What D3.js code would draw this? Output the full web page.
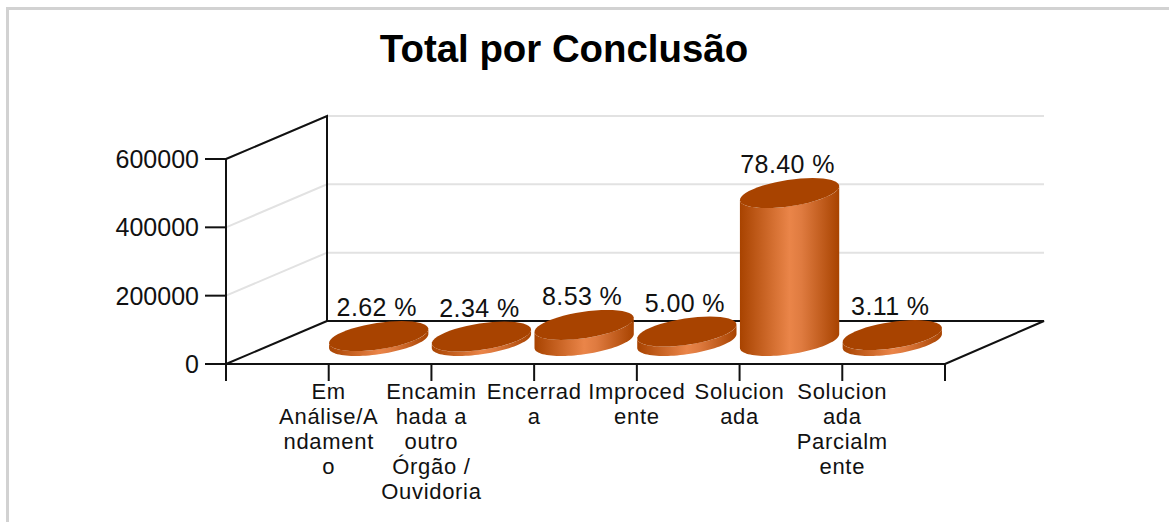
<!DOCTYPE html>
<html><head><meta charset="utf-8">
<script src="https://cdn.jsdelivr.net/npm/d3@7"></script>
<style>html,body{margin:0;padding:0;background:#fff}svg{display:block}text{font-family:"Liberation Sans",Arial,sans-serif;fill:#111}</style>
</head><body><svg id="c" width="1169" height="522"></svg>
<script>
const chartTitle = "Total por Conclusão";
const categories = [["Em","Análise/A","ndament","o"],["Encamin","hada a","outro","Órgão /","Ouvidoria"],["Encerrad","a"],["Improced","ente"],["Solucion","ada"],["Solucion","ada","Parcialm","ente"]];
const values = [14500, 12900, 47100, 27600, 433000, 17200];
const percentLabels = ["2.62 %","2.34 %","8.53 %","5.00 %","78.40 %","3.11 %"];
const yTicks = [0,200000,400000,600000];

const svg = d3.select("#c");
const x = d3.scaleLinear().domain([-1,6]).range([226,945]);
const y = d3.scaleLinear().domain([0,600000]).range([364,159]);
const depth = {x:101,y:-43};

const defs = svg.append("defs");
const g = defs.append("linearGradient").attr("id","cyl").attr("x1",0).attr("x2",1).attr("y1",0).attr("y2",0);
[[0,"#a84300"],[.5,"#ea8549"],[.62,"#df7b40"],[1,"#a84300"]].forEach(s=>g.append("stop").attr("offset",s[0]).attr("stop-color",s[1]));

svg.append("path").attr("d","M7.5 522V8.5H1169").attr("fill","none").attr("stroke","#d2d2d2").attr("stroke-width",3);

svg.append("text").attr("x",564).attr("y",62).attr("text-anchor","middle").attr("font-size",38.4).attr("font-weight","bold").style("fill","#000").text(chartTitle);

// walls
yTicks.slice(1).forEach(t=>{
  svg.append("path").attr("d",d3.line()([[x(-1),y(t)],[x(-1)+depth.x,y(t)+depth.y],[1044,y(t)+depth.y]]))
    .attr("fill","none").attr("stroke","#e2e2e2").attr("stroke-width",2);
});
const axisStyle = s=>s.attr("fill","none").attr("stroke","#111").attr("stroke-width",2);
svg.append("path").attr("d",d3.line()([[x(-1),y(600000)],[x(-1)+depth.x,y(600000)+depth.y],[x(-1)+depth.x,y(0)+depth.y],[1044,y(0)+depth.y],[x(6),y(0)]])).call(axisStyle);
svg.append("path").attr("d",d3.line()([[x(-1),y(0)],[x(-1)+depth.x,y(0)+depth.y]])).call(axisStyle);
svg.append("path").attr("d",d3.line()([[x(-1),y(600000)],[x(-1),y(0)+17]])).call(axisStyle);
svg.append("path").attr("d",d3.line()([[x(-1)-21,y(0)],[x(6),y(0)]])).call(axisStyle);

// y ticks
yTicks.forEach(t=>{
  svg.append("line").attr("x1",x(-1)-21).attr("x2",x(-1)).attr("y1",y(t)).attr("y2",y(t)).call(axisStyle);
  svg.append("text").attr("x",x(-1)-27).attr("y",y(t)+9).attr("text-anchor","end").attr("font-size",25).text(t);
});
// x ticks
d3.range(0,7).forEach(i=>svg.append("line").attr("x1",x(i)).attr("x2",x(i)).attr("y1",y(0)).attr("y2",y(0)+17).call(axisStyle));
categories.forEach((lines,i)=>{
  const t = svg.append("text").attr("text-anchor","middle").attr("font-size",22).attr("letter-spacing",.7);
  lines.forEach((l,j)=>t.append("tspan").attr("x",x(i)).attr("y",399+j*25).text(l));
});

// cylinders
const b = 44, dx = 23, dy = 15;
const line = d3.line();
function ell(cx,cy,a0,a1,n=48){return d3.range(n+1).map(k=>{const a=a0+(a1-a0)*k/n;return [cx+b*Math.cos(a)+dx*Math.sin(a),cy-dy*Math.sin(a)];});}
values.forEach((v,i)=>{
  const cx = x(i)+50, base = y(0)-23, h = y(0)-y(v), top = base-h;
  const at = Math.atan2(dx,b);
  const lower = ell(cx,base,at+Math.PI,at+2*Math.PI);
  const upper = ell(cx,top,at+2*Math.PI,at+Math.PI);
  svg.append("path").attr("d",line(lower.concat(upper))+"Z").attr("fill","url(#cyl)");
  svg.append("path").attr("d",line(ell(cx,top,0,2*Math.PI))+"Z").attr("fill","#a84300");
  svg.append("text").attr("x",cx-2).attr("y",top-20).attr("text-anchor","middle").attr("font-size",25).attr("letter-spacing",.4).text(percentLabels[i]);
});
</script></body></html>
